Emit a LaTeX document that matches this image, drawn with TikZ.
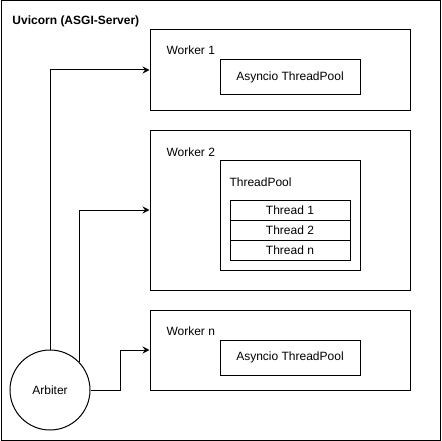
\documentclass[tikz,border=0pt]{standalone}
\usepackage{fontspec}
\setmainfont{Liberation Sans}
\usetikzlibrary{arrows.meta}
\begin{document}
\begin{tikzpicture}[x=1pt,y=-1pt,line width=1pt]

    \tikzset{
      box/.style={
        draw,
        rectangle,
        inner sep=0pt,
        font=\fontsize{12}{14}\selectfont,
      },
      caption/.style={
        anchor=west,
        inner sep=0pt,
        font=\fontsize{12}{14}\selectfont,
      },
      flow/.style={
        -{Stealth[length=7pt,width=7pt,inset=2.5pt]},
      },
    }
    \useasboundingbox (0,0) rectangle (441,441);
    \node[box, minimum width=439pt, minimum height=439pt] (server) at (220.5,220.5) {};
    \node[caption, font=\fontsize{12}{14}\selectfont\bfseries] (servertitle) at (12,21) {Uvicorn (ASGI-Server)};

	% workers
	\node[box, minimum width=260pt, minimum height=80pt] (worker1) at (280,70) {};
	\node[caption] (worker1title) at (166,50) {Worker 1};
	\node[box, minimum width=140pt, minimum height=35pt] (pool1) at (290,77.5) {Asyncio ThreadPool};

	\node[box, minimum width=260pt, minimum height=160pt] (worker2) at (280,210) {};
	\node[caption] (worker2title) at (166,152) {Worker 2};
	\node[box, minimum width=140pt, minimum height=110pt] (pool2) at (290,215) {};
	\node[caption] (pool2title) at (229,182) {ThreadPool};
	\node[box, minimum width=120pt, minimum height=20pt] (thread1) at (290,210) {Thread 1};
	\node[box, minimum width=120pt, minimum height=20pt] (thread2) at (290,230) {Thread 2};
	\node[box, minimum width=120pt, minimum height=20pt] (threadn) at (290,250) {Thread n};

	\node[box, minimum width=260pt, minimum height=80pt] (workern) at (280,350) {};
	\node[caption] (workerntitle) at (166,331) {Worker n};
	\node[box, minimum width=140pt, minimum height=35pt] (pooln) at (290,357.5) {Asyncio ThreadPool};

	% arbiter
	\node[box, circle, minimum size=80pt] (arbiter) at (50,390) {Arbiter};
	\draw[flow] (arbiter.north) |- (worker1);
	\draw[flow] (arbiter.43.5) |- (worker2);
	\draw[flow] (arbiter.east) -- ++(30,0) |- (workern);

\end{tikzpicture}
\end{document}
